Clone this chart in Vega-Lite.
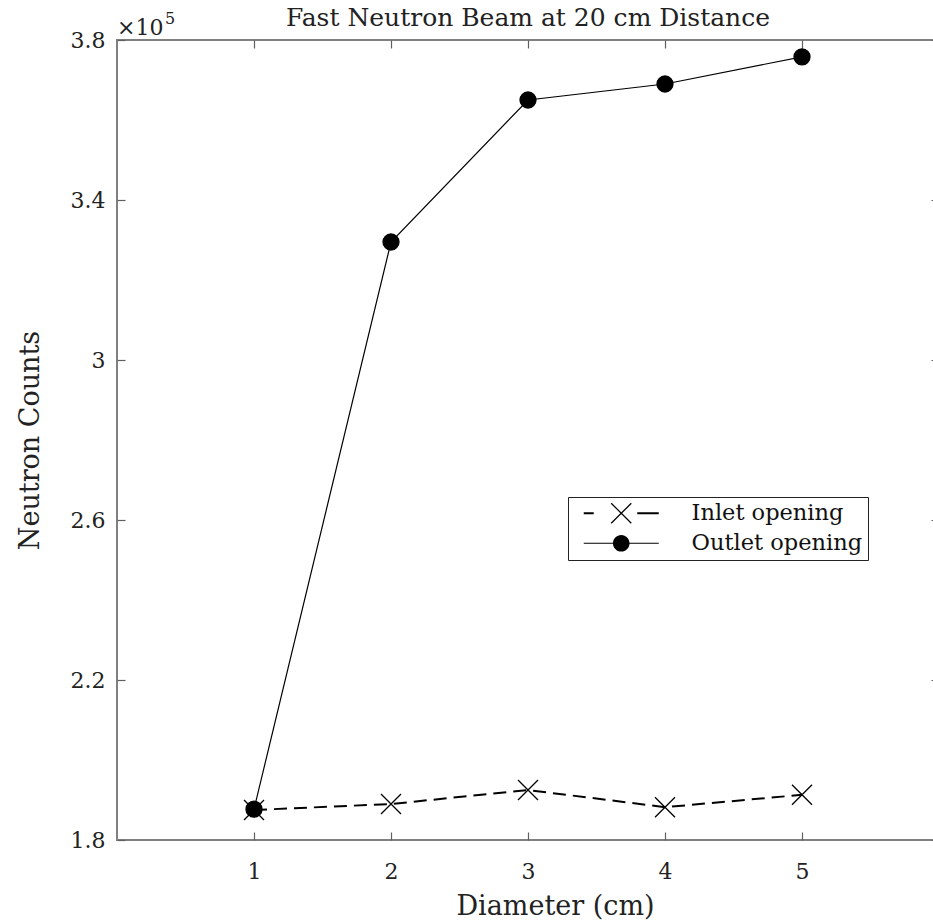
{
  "$schema": "https://vega.github.io/schema/vega-lite/v6.json",
  "width": 822,
  "height": 800,
  "autosize": {"type": "none"},
  "padding": {"left": 117, "top": 40, "right": 0, "bottom": 83},
  "background": "white",
  "config": {
    "view": {"stroke": "#808080", "strokeWidth": 2},
    "font": "DejaVu Serif",
    "axis": {
      "grid": false,
      "domain": false,
      "tickColor": "#606060",
      "tickSize": -8,
      "tickWidth": 1.2,
      "labelFont": "DejaVu Serif",
      "labelFontSize": 22,
      "labelColor": "#222222",
      "titleFont": "DejaVu Serif",
      "titleFontSize": 27,
      "titleFontWeight": "normal",
      "titleColor": "#222222"
    }
  },
  "title": {
    "text": "Fast Neutron Beam at 20 cm Distance",
    "font": "DejaVu Serif",
    "fontSize": 25,
    "fontWeight": "normal",
    "anchor": "middle",
    "frame": "group",
    "offset": -20,
    "color": "#222222"
  },
  "data": {
    "values": [
      {"d": 1, "n": 187500, "series": "Inlet opening"},
      {"d": 2, "n": 189000, "series": "Inlet opening"},
      {"d": 3, "n": 192500, "series": "Inlet opening"},
      {"d": 4, "n": 188200, "series": "Inlet opening"},
      {"d": 5, "n": 191300, "series": "Inlet opening"},
      {"d": 1, "n": 187700, "series": "Outlet opening"},
      {"d": 2, "n": 329500, "series": "Outlet opening"},
      {"d": 3, "n": 365000, "series": "Outlet opening"},
      {"d": 4, "n": 369000, "series": "Outlet opening"},
      {"d": 5, "n": 375800, "series": "Outlet opening"}
    ]
  },
  "layer": [
    {
      "transform": [{"filter": "datum.series === 'Inlet opening'"}],
      "mark": {"type": "line", "color": "black", "strokeDash": [13, 7], "strokeWidth": 2},
      "encoding": {
        "x": {
          "field": "d",
          "type": "quantitative",
          "scale": {"domain": [0, 6], "nice": false, "zero": false},
          "axis": {"orient": "bottom", "values": [1, 2, 3, 4, 5], "labelPadding": 29, "title": "Diameter (cm)", "titlePadding": 11, "titleX": 438}
        },
        "y": {
          "field": "n",
          "type": "quantitative",
          "scale": {"domain": [180000, 380000], "nice": false, "zero": false},
          "axis": {
            "orient": "left",
            "values": [180000, 220000, 260000, 300000, 340000, 380000],
            "labelExpr": "format(datum.value / 100000, '.2~f')",
            "labelPadding": 20,
            "title": "Neutron Counts",
            "titlePadding": 26
          }
        }
      }
    },
    {
      "transform": [{"filter": "datum.series === 'Outlet opening'"}],
      "mark": {"type": "line", "color": "black", "strokeWidth": 1.2},
      "encoding": {
        "x": {"field": "d", "type": "quantitative", "axis": null},
        "y": {"field": "n", "type": "quantitative", "axis": null}
      }
    },
    {
      "mark": {"type": "point", "strokeWidth": 1.3, "opacity": 1, "stroke": "black"},
      "encoding": {
        "x": {"field": "d", "type": "quantitative", "axis": null},
        "y": {"field": "n", "type": "quantitative", "axis": null},
        "shape": {
          "condition": {"test": "datum.series === 'Outlet opening'", "value": "circle"},
          "value": "M-1,-1L1,1M-1,1L1,-1"
        },
        "size": {
          "condition": {"test": "datum.series === 'Outlet opening'", "value": 256},
          "value": 400
        },
        "fill": {
          "condition": {"test": "datum.series === 'Outlet opening'", "value": "black"},
          "value": "transparent"
        }
      }
    },
    {
      "mark": {"type": "point", "filled": true, "color": "black", "fill": "black", "opacity": 0},
      "encoding": {
        "x": {"field": "d", "type": "quantitative", "axis": null},
        "y": {"field": "n", "type": "quantitative", "axis": null},
        "shape": {
          "field": "series",
          "type": "nominal",
          "scale": {
            "domain": ["Inlet opening", "Outlet opening"],
            "range": [
              "M-3.75,-0.1H-2.75V0.1H-3.75ZM1.6,-0.1H3.75V0.1H1.6ZM-1.05,-0.96L0.96,1.05L1.05,0.96L-0.96,-1.05ZM-1.05,0.96L-0.96,1.05L1.05,-0.96L0.96,-1.05Z",
              "M-3.75,-0.06H-0.8V0.06H-3.75ZM0.8,-0.06H3.75V0.06H0.8ZM0.83,0A0.83,0.83,0,1,1,-0.83,0A0.83,0.83,0,1,1,0.83,0Z"
            ]
          },
          "legend": {
            "title": null,
            "orient": "none",
            "legendX": 451,
            "legendY": 457,
            "padding": 5,
            "symbolSize": 400,
            "symbolOffset": 37,
            "labelOffset": 59,
            "rowPadding": 7,
            "labelLimit": 300,
            "labelFont": "DejaVu Serif",
            "labelFontSize": 22.5,
            "labelColor": "#111111",
            "strokeColor": "#222222",
            "fillColor": "white",
            "symbolOpacity": 1,
            "symbolFillColor": "black",
            "symbolStrokeWidth": 0,
            "symbolStrokeColor": "black"
          }
        }
      }
    },
    {
      "data": {"values": [{"label": "×10"}]},
      "mark": {"type": "text", "align": "left", "baseline": "alphabetic", "dy": -5, "fontSize": 22, "font": "DejaVu Serif", "color": "#222222"},
      "encoding": {
        "x": {"datum": 0, "type": "quantitative", "axis": null},
        "y": {"datum": 380000, "type": "quantitative", "axis": null},
        "text": {"field": "label"}
      }
    },
    {
      "data": {"values": [{"label": "5"}]},
      "mark": {"type": "text", "align": "left", "baseline": "alphabetic", "dx": 48, "dy": -16, "fontSize": 16, "font": "DejaVu Serif", "color": "#222222"},
      "encoding": {
        "x": {"datum": 0, "type": "quantitative", "axis": null},
        "y": {"datum": 380000, "type": "quantitative", "axis": null},
        "text": {"field": "label"}
      }
    },
    {
      "mark": {"type": "point", "opacity": 0},
      "encoding": {
        "x": {"field": "d", "type": "quantitative", "axis": {"orient": "top", "values": [1, 2, 3, 4, 5], "labels": false, "title": null}},
        "y": {"field": "n", "type": "quantitative", "axis": {"orient": "right", "values": [180000, 220000, 260000, 300000, 340000, 380000], "labels": false, "title": null}}
      }
    }
  ],
  "resolve": {"axis": {"x": "independent", "y": "independent"}}
}
